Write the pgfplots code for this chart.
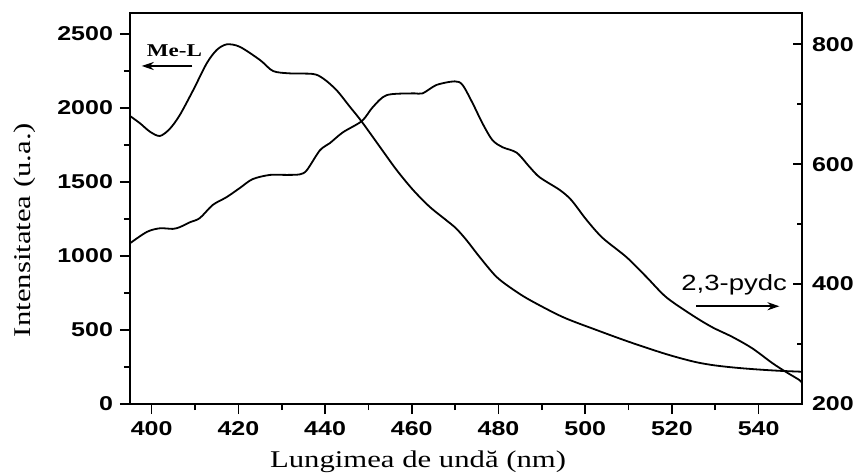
\documentclass[border=0pt]{standalone}
\usepackage{fontspec}
\setmainfont{Liberation Serif}[FakeStretch=1.28]
\newfontfamily\sansf{Liberation Sans}[FakeStretch=1.25]
\usepackage{pgfplots}
\pgfplotsset{compat=1.18}
\usetikzlibrary{arrows.meta}

\pgfplotstableread{
x y
395 1946
397.3 1897
399.6 1840
401.9 1811
404.2 1860
406.5 1953
409.6 2122
412.7 2302
415.0 2392
417.3 2430
420.3 2414
425.0 2324
428.0 2250
431.9 2234
437.2 2230
439.5 2201
442.6 2122
445.7 2009
448.4 1910
452.6 1739
456.5 1581
460.3 1446
464.1 1333
467.9 1243
470.2 1187
472.6 1108
475.6 995
479.5 860
483.3 775
487.2 703
494.8 588
502.6 500
510.2 419
517.8 345
522.4 306
526.0 280
529.6 262
533.4 249
537.2 239
541.0 231
545.0 224
550 218
}\meL

\pgfplotstableread{
x y
395 468
398.9 487
401.9 493
404.9 492
406.5 495
408.8 503
411.1 510
414.1 532
417.3 545
420.3 560
423.3 575
427.3 582
431.2 582
434.2 583
435.8 590
438.8 623
441.1 635
444.1 653
448.5 672
451.0 695
454.2 715
460.2 718
462.5 718
465.7 732
469.9 738
471.7 732
474.0 702
476.3 668
478.6 640
481.0 628
484.2 619
487.2 595
489.5 578
494.1 557
496.8 540
500.3 507
504.0 477
509.5 445
514.1 412
518.7 378
524.7 348
529.3 328
533.9 312
538.5 293
543.2 268
546.4 253
549.4 240
550 235
}\pydc

\begin{document}
\begin{tikzpicture}
\begin{axis}[
  scale only axis, width=336pt, height=195.5pt,
  xmin=395, xmax=550, ymin=0, ymax=2642,
  xtick={400,420,...,540}, minor x tick num=1,
  ytick={0,500,...,2500}, minor y tick num=1,
  xtick pos=bottom, ytick pos=left, tick align=outside,
  major tick length=5pt, minor tick length=3pt,
  axis line style={line width=0.9pt},
  tick style={black, line width=0.8pt},
  ticklabel style={font=\sansf\bfseries\fontsize{10}{11}\selectfont},
  /pgf/number format/assume math mode=true,
  /pgf/number format/1000 sep={},
  xlabel={Lungimea de undă (nm)},
  ylabel={Intensitatea (u.a.)},
  label style={font=\fontsize{12}{14}\selectfont},
  xlabel style={at={(axis description cs:0.4286,-0.148)}, anchor=center},
  ylabel style={at={(axis description cs:-0.156,0.445)}, anchor=center},
]
\addplot[black, line width=0.9pt, no marks, smooth, tension=0.5] table[x=x,y=y] {\meL};
\node[font=\bfseries\fontsize{9}{10}\selectfont, anchor=base west, inner sep=0pt] at (axis cs:398.8,2347) {Me-L};
\draw[-{Stealth[length=6pt,width=4pt]}, line width=0.9pt] (axis cs:409.4,2284) -- (axis cs:397.7,2284);
\end{axis}
\begin{axis}[
  scale only axis, width=336pt, height=195.5pt,
  xmin=395, xmax=550, ymin=200, ymax=852,
  axis x line=none, axis y line*=right,
  ytick={200,400,...,800}, minor y tick num=1,
  tick align=inside,
  major tick length=4.5pt, minor tick length=2.5pt,
  axis line style={line width=0.9pt},
  tick style={black, line width=0.8pt},
  yticklabel style={font=\sansf\bfseries\fontsize{10}{11}\selectfont, xshift=1.5pt},
  /pgf/number format/assume math mode=true,
]
\addplot[black, line width=0.9pt, no marks, smooth, tension=0.5] table[x=x,y=y] {\pydc};
\node[font=\sansf\fontsize{11}{12}\selectfont, anchor=base east, inner sep=0pt] at (axis cs:546.6,390) {2,3-pydc};
\draw[-{Stealth[length=6pt,width=4pt]}, line width=0.9pt] (axis cs:525.6,363) -- (axis cs:544.8,363);
\end{axis}
\pgfresetboundingbox
\path[use as bounding box] (-65pt,-34pt) rectangle (364pt,202pt);
\end{tikzpicture}
\end{document}
